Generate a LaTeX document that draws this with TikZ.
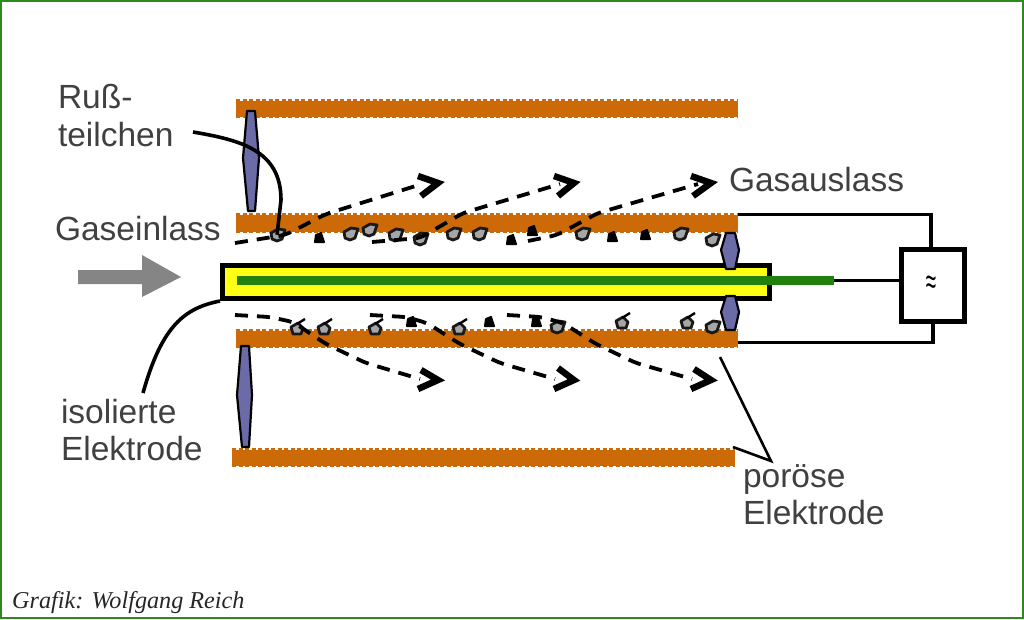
\documentclass[tikz,border=0pt]{standalone}
\usepackage{fontspec}
\setmainfont{Liberation Sans}
\newfontfamily\serifit[ItalicFont=Liberation Serif Italic]{Liberation Serif}
\definecolor{rust}{HTML}{CC6A08}
\definecolor{frame}{HTML}{2F8A1C}
\definecolor{spindle}{HTML}{6B6BA8}
\definecolor{ytube}{HTML}{FFFF14}
\definecolor{gbar}{HTML}{22800F}
\definecolor{labelgray}{HTML}{404040}
\definecolor{arrowgray}{HTML}{858585}
\tikzset{
 x=1pt,y=-1pt,
 plate/.style={fill=rust,draw=none},
 plateedge/.style={draw=rust,line width=3pt,dash pattern=on 4pt off 2.5pt},
 iso/.style={fill=spindle,draw=black,line width=2.2pt,line join=round},
 flow/.style={draw=black,line width=3.8pt,dash pattern=on 13pt off 9pt,line cap=butt,rounded corners=6pt},
 chev/.style={draw=black,line width=6.5pt,line join=miter},
 wire/.style={draw=black,line width=3pt},
 wiret/.style={draw=black,line width=4.5pt},
 lead/.style={draw=black,line width=3.6pt},
 thinlead/.style={draw=black,line width=2.6pt,line join=miter},
 lab/.style={anchor=base west,text=labelgray,font=\fontsize{33.5}{33.5}\selectfont,inner sep=0pt,outer sep=0pt},
 soot/.style={fill=gray!70,draw=black!90,line width=2.8pt,line join=round},
 sootk/.style={fill=black,draw=black,line width=2pt,line join=round},
}
\newcommand{\platebar}[5]{% name x0 x1 y0 y1
 \node[plate,minimum width=#3pt-#2pt,minimum height=#5pt-#4pt,inner sep=0pt,anchor=north west] (#1) at (#2,#4) {};
 \draw[plateedge] (#2,#4) -- (#3,#4);
 \draw[plateedge] (#2,#5) -- (#3,#5);
}
% top-row particle
\newcommand{\sootp}[3]{%
 \node[inner sep=0pt,minimum size=0pt] (#1) at (#2,#3) {};
 \draw[soot] (#2-6,#3-2) -- (#2+1,#3-6) -- (#2+8,#3-5) -- (#2+5,#3+4) -- (#2,#3+6) -- (#2-5,#3+4) -- cycle;
}
% bottom-row particle, tail to the upper right
\newcommand{\sootq}[3]{%
 \node[inner sep=0pt,minimum size=0pt] (#1) at (#2,#3) {};
 \draw[soot] (#2-6,#3-1) -- (#2+1,#3-5) -- (#2+6,#3) -- (#2+4,#3+6) -- (#2-4,#3+6) -- cycle;
 \draw[draw=black,line width=2.4pt] (#2,#3-4) -- (#2+8,#3-9);
}
% small solid particle
\newcommand{\sootk}[3]{%
 \node[inner sep=0pt,minimum size=0pt] (#1) at (#2,#3) {};
 \draw[sootk] (#2-4,#3-3) -- (#2+1,#3-5) -- (#2+4,#3+4) -- (#2-5,#3+4) -- cycle;
}
\begin{document}
\begin{tikzpicture}
\useasboundingbox (0,0) rectangle (1024,619);
\fill[white] (0,0) rectangle (1024,619);
\draw[frame,line width=2.5pt] (1,1) rectangle (1023,618);

% plates
\platebar{p1}{236}{738}{100.5}{116.5}
\platebar{p2}{236}{738}{214.5}{231.5}
\platebar{p3}{236}{738}{330.5}{346.5}
\platebar{p4}{232}{735}{449.5}{465.5}

% spindle insulators
\draw[iso] (247,111) -- (255,111) -- (259,158) -- (255,211) -- (248,211) -- (243,158) -- cycle;
\draw[iso] (241,346) -- (249,346) -- (252,395) -- (249,447) -- (242,447) -- (237,395) -- cycle;

% electrode
\node[draw=black,line width=5pt,fill=ytube,minimum width=547pt,minimum height=33pt,inner sep=0pt,anchor=north west] (elec) at (220,263) {};
\node[fill=gbar,minimum width=597pt,minimum height=9pt,inner sep=0pt,anchor=north west] (core) at (237,276) {};

% right insulators
\draw[iso] (726,233) -- (735,233) -- (739,250) -- (735,269) -- (726,269) -- (721,250) -- cycle;
\draw[iso] (726,296) -- (735,296) -- (739,312) -- (735,330) -- (726,330) -- (721,312) -- cycle;

% voltage source and wires
\node[draw=black,line width=5pt,fill=white,minimum width=63pt,minimum height=72pt,inner sep=0pt] (src) at (933,285.5) {};
\node[inner sep=0pt,yscale=1.7,xscale=0.85,font=\fontsize{22}{22}\selectfont] (tilde) at (931,285) {≈};
\coordinate (c1) at (738,214);
\coordinate (c2) at (931,214);
\coordinate (c3) at (738,342);
\coordinate (c4) at (933,342);
\coordinate (c5) at (834,280);
\draw[wire] (c1) -- (c2);
\draw[wiret] (c2) ++(0,-1.5) -- (c2 |- src.north);
\draw[wire] (c3) -- (c4);
\draw[wiret] (c4) ++(0,1.5) -- (c4 |- src.south);
\draw[wire] (c5) -- (c5 -| src.west);

% particles
\sootp{a1}{277}{235}\sootk{a2}{320}{238}\sootp{a3}{350}{234}\sootp{a4}{369}{230}
\sootp{a5}{395}{235}\sootp{a6}{420}{239}\sootp{a7}{453}{234}\sootp{a8}{479}{234}
\sootk{a9}{512}{240}\sootk{a10}{533}{231}\sootp{a11}{582}{234}\sootk{a12}{613}{237}
\sootk{a13}{646}{235}\sootp{a14}{680}{234}\sootp{a15}{712}{240}
\sootq{b1}{297}{328}\sootq{b2}{324}{328}\sootq{b3}{375}{328}\sootk{b4}{412}{322}
\sootq{b5}{459}{328}\sootk{b6}{490}{322}\sootk{b7}{537}{322}\sootp{b8}{557}{327}
\sootq{b9}{622}{322}\sootq{b10}{687}{322}\sootp{b11}{712}{327}

% flows
\coordinate (ft1) at (235,243);\coordinate (fe1) at (422,184);
\coordinate (ft2) at (372,242);\coordinate (fe2) at (560,184);
\coordinate (ft3) at (528,241);\coordinate (fe3) at (698,184);
\coordinate (fb1) at (235,315);\coordinate (ge1) at (420,379);
\coordinate (fb2) at (370,315);\coordinate (ge2) at (555,379);
\coordinate (fb3) at (507,315);\coordinate (ge3) at (692,379);
\draw[flow] (ft1) -- (285,235) -- (326,214) -- (fe1);
\draw[flow] (ft2) -- (420,238) -- (463,213) -- (fe2);
\draw[flow] (ft3) -- (557,235) -- (598,213) -- (fe3);
\draw[flow] (fb1) -- (270,317) -- (293,322) -- (326,344) -- (366,363) -- (ge1);
\draw[flow] (fb2) -- (406,317) -- (427,323) -- (460,344) -- (500,363) -- (ge2);
\draw[flow] (fb3) -- (541,317) -- (563,323) -- (596,344) -- (636,363) -- (ge3);
\draw[chev] (418,176) -- (438,183) -- (421,196);
\draw[chev] (554,176) -- (574,183) -- (558,196);
\draw[chev] (691,176) -- (711,183) -- (693,196);
\draw[chev] (421,370) -- (438,380) -- (418,389);
\draw[chev] (558,368) -- (574,380) -- (554,389);
\draw[chev] (694,369) -- (711,380) -- (691,389);

% gas arrow
\fill[arrowgray] (78,270) -- (142,270) -- (142,255) -- (181,277) -- (142,297) -- (142,284) -- (78,284) -- cycle;

% labels
\node[lab] (l1) at (58,108) {Ruß-};
\node[lab] (l2) at (58,146) {teilchen};
\node[lab] (l3) at (55,240) {Gaseinlass};
\node[lab] (l4) at (729,191) {Gasauslass};
\node[lab] (l5) at (61,423) {isolierte};
\node[lab] (l6) at (61,460) {Elektrode};
\node[lab] (l7) at (743,487) {poröse};
\node[lab] (l8) at (743,524) {Elektrode};
\node[anchor=base west,inner sep=0pt,font=\serifit\itshape\fontsize{24.2}{24.2}\selectfont,text=black!85] (l9) at (12,608) {Grafik: Wolfgang Reich};

% leaders
\coordinate (r0) at (193,132);
\coordinate (i0) at (143,393);
\coordinate (e0) at (720,357);
\coordinate (e1) at (771,461);
\coordinate (e2) at (733,447);
\draw[lead] (r0) .. controls (240,140) and (281,150) .. (281,200) -- (a1);
\draw[lead] (elec.south west) .. controls (185,308) and (162,325) .. (i0);
\draw[thinlead] (e0) -- (e1) -- (e2);
\end{tikzpicture}
\end{document}
